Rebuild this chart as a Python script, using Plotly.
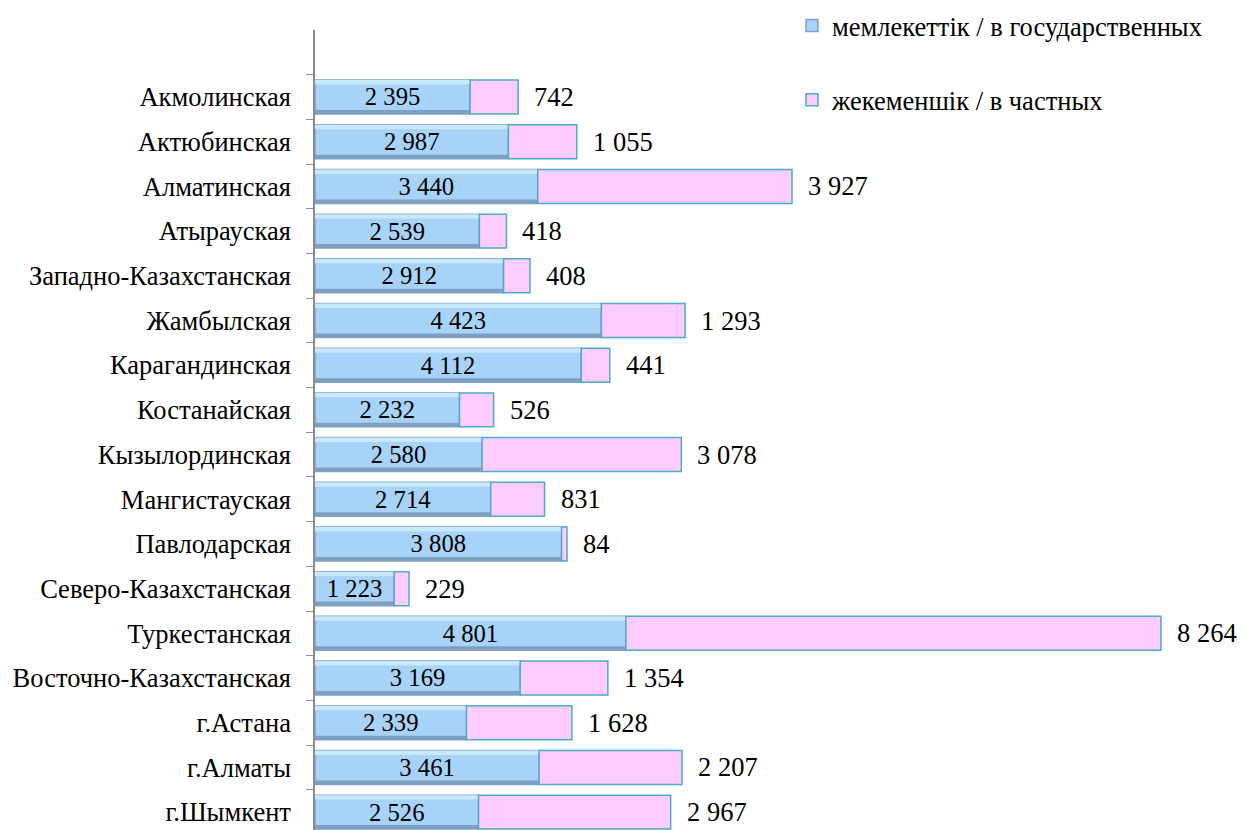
import plotly.graph_objects as go

regions = ["Акмолинская", "Актюбинская", "Алматинская", "Атырауская",
           "Западно-Казахстанская", "Жамбылская", "Карагандинская", "Костанайская",
           "Кызылординская", "Мангистауская", "Павлодарская", "Северо-Казахстанская",
           "Туркестанская", "Восточно-Казахстанская", "г.Астана", "г.Алматы", "г.Шымкент"]
state = [2395, 2987, 3440, 2539, 2912, 4423, 4112, 2232, 2580, 2714, 3808, 1223,
         4801, 3169, 2339, 3461, 2526]
private = [742, 1055, 3927, 418, 408, 1293, 441, 526, 3078, 831, 84, 229,
           8264, 1354, 1628, 2207, 2967]

FONT = "Liberation Serif, Times New Roman, serif"
SIZE = 26.5
W = 0.76  # bar thickness (category units)

fig = go.Figure()
fig.add_trace(go.Bar(
    y=regions, x=state, base=0, orientation="h", width=W,
    name="мемлекеттік / в государственных", legendgroup="a",
    marker=dict(color="#a6d3f7", line=dict(color="#7ea3c9", width=1.5)),
    texttemplate="%{x:,}", textposition="inside", insidetextanchor="middle",
    textfont=dict(family=FONT, size=SIZE, color="black"), hoverinfo="x+y"))
# light top edge and dark bottom edge to give the blue bars their bevel look
fig.add_trace(go.Bar(
    y=regions, x=state, base=0, orientation="h", width=0.1, offset=-W / 2,
    marker=dict(color="#c9e8fc", line=dict(width=0)),
    showlegend=False, legendgroup="a", hoverinfo="skip"))
fig.add_trace(go.Bar(
    y=regions, x=state, base=0, orientation="h", width=0.09, offset=W / 2 - 0.09,
    marker=dict(color="#7f9fc2", line=dict(width=0)),
    showlegend=False, legendgroup="a", hoverinfo="skip"))
fig.add_trace(go.Bar(
    y=regions, x=private, base=state, orientation="h", width=W,
    name="жекеменшік / в частных", legendgroup="b",
    marker=dict(color="#ffccff", line=dict(color="#4bacc6", width=1.5)),
    hoverinfo="x+y"))

# value of the private segment, written after the end of the bar
for r, s, p in zip(regions, state, private):
    fig.add_annotation(x=s + p, y=r, text=f"{p:,}".replace(",", " "),
                       xanchor="left", xshift=14, showarrow=False,
                       font=dict(family=FONT, size=SIZE, color="black"))

fig.update_layout(
    barmode="overlay", separators=". ",
    width=1243, height=830, plot_bgcolor="white", paper_bgcolor="white",
    margin=dict(l=315, r=0, t=0, b=0),
    font=dict(family=FONT, size=SIZE, color="black"),
    legend=dict(x=0.514, y=0.998, xanchor="left", yanchor="top",
                font=dict(family=FONT, size=SIZE), tracegroupgap=37,
                traceorder="grouped", itemwidth=30),
    showlegend=True,
)
fig.update_xaxes(range=[0, 14332], visible=False)
fig.update_yaxes(type="category", categoryorder="array", categoryarray=regions,
                 range=[16.4, -1.5], domain=[0, 800 / 830], automargin=False,
                 showline=True, linecolor="#8c8c8c", linewidth=1.5,
                 ticks="outside", tickson="boundaries", ticklen=7, tickcolor="#8c8c8c",
                 showgrid=False, ticklabelstandoff=17,
                 tickfont=dict(family=FONT, size=SIZE))

fig.write_html("out.html", config={"displayModeBar": False},
               post_script="document.body.style.margin='0';")
